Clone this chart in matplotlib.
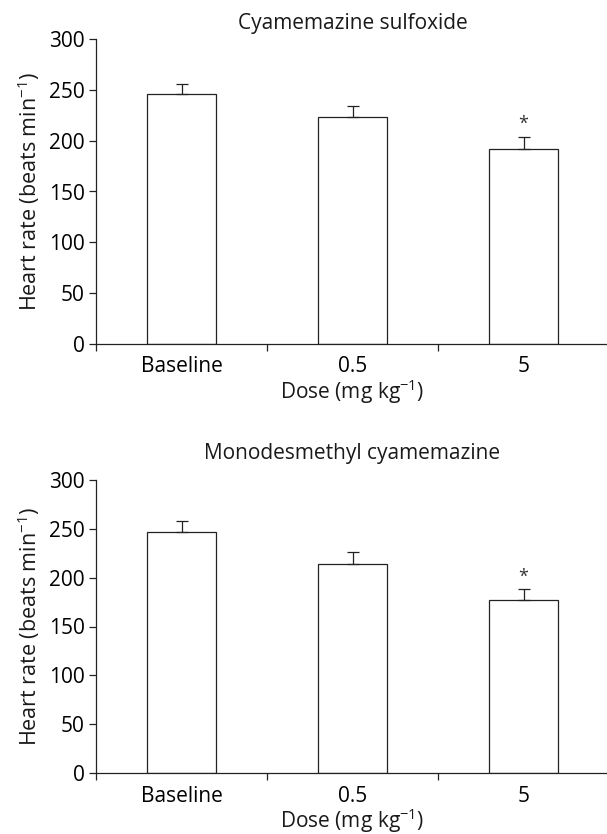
import matplotlib
matplotlib.use("Agg")
import matplotlib.pyplot as plt
import numpy as np

plt.rcParams['font.family'] = ['Open Sans', 'DejaVu Sans']
plt.rcParams['mathtext.fontset'] = 'custom'
plt.rcParams['mathtext.rm'] = 'Open Sans'

doses = ["Baseline", "0.5", "5"]

sulfoxide_mean = [246, 223, 192]
sulfoxide_err = [10, 11.5, 12]
sulfoxide_sig = [False, False, True]

monodesmethyl_mean = [247, 214, 177]
monodesmethyl_err = [11, 12, 11]
monodesmethyl_sig = [False, False, True]

yticks = [0, 50, 100, 150, 200, 250, 300]

INK = "#222222"
FS = 15


def draw_panel(ax, title, means, errs, sig, pad):
    x = np.arange(len(doses)) + 0.5
    ax.bar(x, means, width=0.4, color="white", edgecolor=INK, linewidth=0.9)
    ax.errorbar(x, means, yerr=[np.zeros(len(errs)), errs], fmt="none",
                ecolor=INK, elinewidth=0.9, capsize=4.2, capthick=0.9)
    for xi, m, e, s in zip(x, means, errs, sig):
        if s:
            ax.text(xi, m + e + 4, "*", ha="center", va="bottom",
                    fontsize=13, color="#333333")
    ax.set_xlim(0, 3)
    ax.set_ylim(0, 300)
    ax.set_yticks(yticks)
    ax.set_xticks([0, 1, 2])
    ax.set_xticklabels([])
    ax.set_xticks(x, minor=True)
    ax.set_xticklabels(doses, minor=True)
    ax.tick_params(axis="x", which="minor", length=0, pad=9, labelsize=FS)
    ax.tick_params(axis="x", which="major", length=5, width=0.9, color=INK)
    ax.tick_params(axis="y", length=5, width=0.9, color=INK, pad=3,
                   labelsize=FS)
    for side in ["top", "right"]:
        ax.spines[side].set_visible(False)
    for side in ["left", "bottom"]:
        ax.spines[side].set_linewidth(0.9)
        ax.spines[side].set_color(INK)
    ax.set_title(title, fontsize=FS, pad=pad, color="#1a1a1a")
    ax.set_ylabel(r"Heart rate (beats min$^{\mathregular{-1}}$)",
                  fontsize=FS + 0.5, labelpad=5, color="#1a1a1a")
    ax.set_xlabel(r"Dose (mg kg$^{\mathregular{-1}}$)", fontsize=FS,
                  labelpad=0, color="#1a1a1a")


def main():
    W, H = 607, 834
    fig = plt.figure(figsize=(W / 100, H / 100), dpi=100)
    left = 96 / W
    width = 513 / W
    ax1 = fig.add_axes([left, (H - 344) / H, width, 305 / H])
    ax2 = fig.add_axes([left, (H - 773) / H, width, 293 / H])
    draw_panel(ax1, "Cyamemazine sulfoxide", sulfoxide_mean, sulfoxide_err,
               sulfoxide_sig, 7)
    draw_panel(ax2, "Monodesmethyl cyamemazine", monodesmethyl_mean,
               monodesmethyl_err, monodesmethyl_sig, 15)
    fig.savefig("out.png", dpi=100)


if __name__ == "__main__":
    main()
